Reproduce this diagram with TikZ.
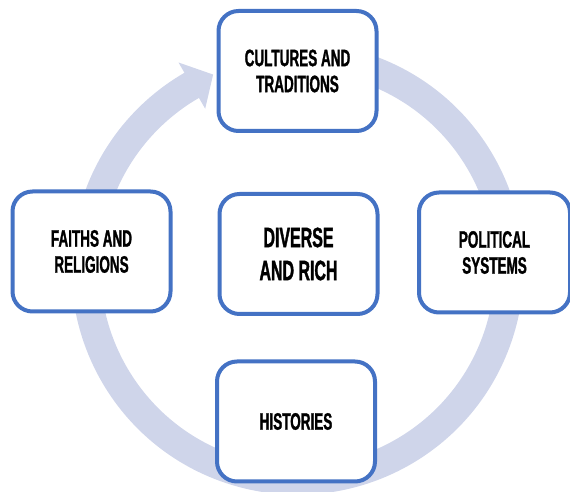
\documentclass[tikz,border=0pt]{standalone}
\usepackage{fontspec}
\usepackage{tikz}
\usetikzlibrary{calc}
\newfontfamily\boxfont[FakeStretch=0.57,FakeBold=1.2]{Liberation Sans Bold}
\definecolor{boxblue}{HTML}{4472C4}
\definecolor{ringblue}{HTML}{CFD5EA}

\begin{document}
\begin{tikzpicture}[x=1pt,y=1pt,
	box/.style={draw=boxblue, line width=4pt, fill=white, rounded corners=20pt,
		minimum width=158pt, minimum height=120pt, align=center,
		font=\boxfont\fontsize{23.7}{26}\selectfont}]
			\useasboundingbox (0,0) rectangle (570,492);
			
			\coordinate (c) at (297.5,223.4);
			\draw[ringblue, line width=29pt] ($(c)+(70:211.6)$) arc (70:-241:211.6);
			\fill[ringblue] ($(c)+(120:238)$) -- ($(c)+(113.5:211.6)$) -- ($(c)+(120:184.6)$) -- cycle;
			
			\node[box] (cultures) at (297.5,421) {CULTURES AND\\TRADITIONS};
			\node[box] (faiths) at (91.5,240.5) {FAITHS AND\\RELIGIONS};
			\node[box, font=\boxfont\fontsize{28}{33}\selectfont] (diverse) at (298.5,238) {DIVERSE\\AND RICH};
			\node[box, minimum width=151pt] (political) at (494.5,239.5) {POLITICAL\\SYSTEMS};
			\node[box] (histories) at (296,70.5) {HISTORIES};
			
		\end{tikzpicture}
\end{document}
